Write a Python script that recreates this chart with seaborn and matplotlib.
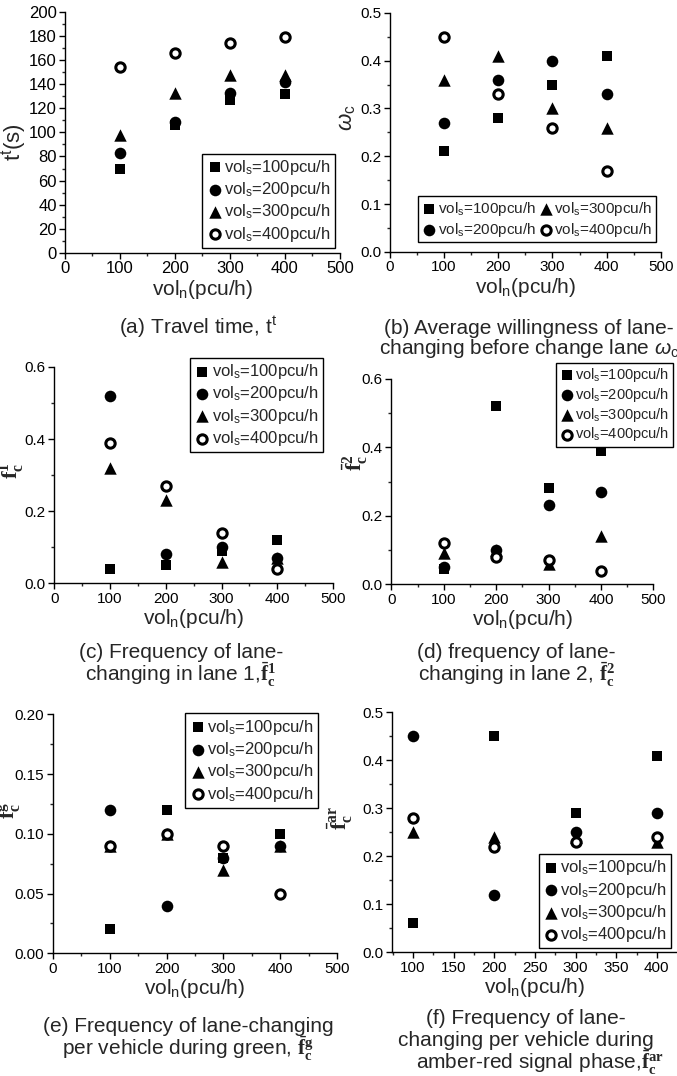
import seaborn as sns
import matplotlib.pyplot as plt
import pandas as pd
from matplotlib.ticker import MultipleLocator, AutoMinorLocator, FormatStrFormatter

# data, rows = vol_s 100/200/300/400, columns = vol_n
vol_n = [100, 200, 300, 400]
vol_s = [100, 200, 300, 400]

travel_time = [[70, 106, 127, 132],
               [83, 109, 133, 142],
               [98, 133, 148, 148],
               [154, 166, 174, 179]]
omega_c = [[0.21, 0.28, 0.35, 0.41],
           [0.27, 0.36, 0.40, 0.33],
           [0.36, 0.41, 0.30, 0.26],
           [0.45, 0.33, 0.26, 0.17]]
f_lane1 = [[0.04, 0.05, 0.09, 0.12],
           [0.52, 0.08, 0.10, 0.07],
           [0.32, 0.23, 0.06, 0.07],
           [0.39, 0.27, 0.14, 0.04]]
f_lane2 = [[0.045, 0.52, 0.28, 0.39],
           [0.05, 0.10, 0.23, 0.27],
           [0.09, 0.10, 0.06, 0.14],
           [0.12, 0.08, 0.07, 0.04]]
f_green = [[0.02, 0.12, 0.08, 0.10],
           [0.12, 0.04, 0.08, 0.09],
           [0.09, 0.10, 0.07, 0.09],
           [0.09, 0.10, 0.09, 0.05]]
f_amber = [[0.06, 0.45, 0.29, 0.41],
           [0.45, 0.12, 0.25, 0.29],
           [0.25, 0.24, 0.24, 0.23],
           [0.28, 0.22, 0.23, 0.24]]

ylabels = [r"t$^\mathrm{t}$(s)", r"$\omega_\mathrm{c}$",
           r"$\bar{\mathbf{f}}_\mathbf{c}^\mathbf{1}$", r"$\bar{\mathbf{f}}_\mathbf{c}^\mathbf{2}$",
           r"$\bar{\mathbf{f}}_\mathbf{c}^\mathbf{g}$", r"$\bar{\mathbf{f}}_\mathbf{c}^\mathbf{ar}$"]

sns.set_style("ticks")
plt.rcParams['font.family'] = ['Liberation Sans', 'DejaVu Sans']
plt.rcParams['mathtext.fontset'] = 'custom'
plt.rcParams['mathtext.rm'] = 'Liberation Sans'
plt.rcParams['mathtext.it'] = 'Liberation Sans:italic'
plt.rcParams['mathtext.bf'] = 'Liberation Serif:bold'


def to_long(values):
    rows = []
    for i, s in enumerate(vol_s):
        for j, n in enumerate(vol_n):
            rows.append({'vol_n': n, 'vol_s': s, 'value': values[i][j]})
    return pd.DataFrame(rows)


styles = {
    100: dict(marker='s', color='black', s=62, linewidth=0),
    200: dict(marker='o', color='black', s=70, linewidth=0),
    300: dict(marker='^', color='black', s=80, linewidth=0),
    400: dict(marker='o', color='white', edgecolor='black', s=45, linewidth=2.2),
}


def panel(fig, rect, values, ylabel, ylabel_pos, ylim, ystep, yfmt, xlim, xstep,
          ticksize, legsize, legend_kw):
    ax = fig.add_axes(rect)
    df = to_long(values)
    for s in vol_s:
        sub = df[df['vol_s'] == s]
        sns.scatterplot(data=sub, x='vol_n', y='value', ax=ax, zorder=3,
                        label=r"vol$_\mathrm{s}$=%dpcu/h" % s, **styles[s])
    ax.set_xlim(*xlim)
    ax.set_ylim(*ylim)
    ax.xaxis.set_major_locator(MultipleLocator(xstep))
    ax.yaxis.set_major_locator(MultipleLocator(ystep))
    ax.xaxis.set_minor_locator(AutoMinorLocator(2))
    ax.yaxis.set_minor_locator(AutoMinorLocator(2))
    ax.yaxis.set_major_formatter(FormatStrFormatter(yfmt))
    ax.tick_params(which='major', direction='out', length=4, width=1,
                   labelsize=ticksize, colors='black', pad=2)
    ax.tick_params(which='minor', direction='out', length=2, width=1)
    for side in ['top', 'right']:
        ax.spines[side].set_visible(False)
    for side in ['left', 'bottom']:
        ax.spines[side].set_color('black')
        ax.spines[side].set_linewidth(1)
    ax.set_xlabel(r"vol$_\mathrm{n}$(pcu/h)", fontsize=15, labelpad=1)
    ax.set_ylabel(ylabel, fontsize=16)
    ax.yaxis.set_label_coords(*ylabel_pos)
    spacing = legend_kw.pop('labelspacing', 0.2)
    leg = ax.legend(fontsize=legsize, frameon=True, fancybox=False, edgecolor='black',
                    framealpha=1, handletextpad=0.05, handlelength=1.0,
                    borderpad=0.25, labelspacing=spacing, borderaxespad=0.3,
                    columnspacing=0.15, **legend_kw)
    leg.get_frame().set_linewidth(1)
    return ax


fig = plt.figure(figsize=(6.77, 10.76), dpi=100)

panel(fig, [0.096, 0.765, 0.406, 0.224], travel_time, ylabels[0], (-0.135, 0.46),
      (0, 200), 20, '%d', (0, 500), 100, 12, 12,
      dict(loc='lower right', bbox_to_anchor=(1.0, 0.0)))
panel(fig, [0.576, 0.766, 0.400, 0.222], omega_c, ylabels[1], (-0.118, 0.56),
      (0, 0.5), 0.1, '%.1f', (0, 500), 100, 11, 11,
      dict(loc='lower right', ncol=2, bbox_to_anchor=(1.0, 0.02)))
panel(fig, [0.080, 0.458, 0.412, 0.201], f_lane1, ylabels[2], (-0.10, 0.52),
      (0, 0.6), 0.2, '%.1f', (0, 500), 100, 11, 12,
      dict(loc='upper right', bbox_to_anchor=(0.98, 1.065)))
panel(fig, [0.578, 0.457, 0.387, 0.191], f_lane2, ylabels[3], (-0.08, 0.59),
      (0, 0.6), 0.2, '%.1f', (0, 500), 100, 11, 10.5,
      dict(loc='upper right', bbox_to_anchor=(1.09, 1.1), labelspacing=0.12))
panel(fig, [0.078, 0.114, 0.420, 0.222], f_green, ylabels[4], (-0.105, 0.60),
      (0, 0.20), 0.05, '%.2f', (0, 500), 100, 11, 12,
      dict(loc='upper right', bbox_to_anchor=(0.95, 1.025)))
panel(fig, [0.579, 0.115, 0.420, 0.223], f_amber, ylabels[5], (-0.13, 0.56),
      (0, 0.5), 0.1, '%.1f', (74, 424), 50, 11, 12,
      dict(loc='lower right', bbox_to_anchor=(1.0, -0.005)))

# captions under each panel: (text, x pixel center, y pixel from top)
captions = [
    (r"(a) Travel time, t$^\mathrm{t}$", 198, 327),
    ("(b) Average willingness of lane-", 529, 328),
    (r"changing before change lane $\omega_\mathrm{c}$", 529, 348),
    ("(c) Frequency of lane-", 181, 653),
    (r"changing in lane 1,$\bar{\mathbf{f}}_\mathbf{c}^\mathbf{1}$", 181, 675),
    ("(d) frequency of lane-", 516, 653),
    (r"changing in lane 2, $\bar{\mathbf{f}}_\mathbf{c}^\mathbf{2}$", 516, 675),
    ("(e) Frequency of lane-changing", 188, 1027),
    (r"per vehicle during green, $\bar{\mathbf{f}}_\mathbf{c}^\mathbf{g}$", 188, 1049),
    ("(f) Frequency of lane-", 526, 1018),
    ("changing per vehicle during", 526, 1040),
    (r"amber-red signal phase,$\bar{\mathbf{f}}_\mathbf{c}^\mathbf{ar}$", 540, 1063),
]
for text, x, y in captions:
    fig.text(x / 677, 1 - y / 1076, text, ha='center', va='center', fontsize=15)

fig.savefig('out.png', dpi=100, facecolor='white')
